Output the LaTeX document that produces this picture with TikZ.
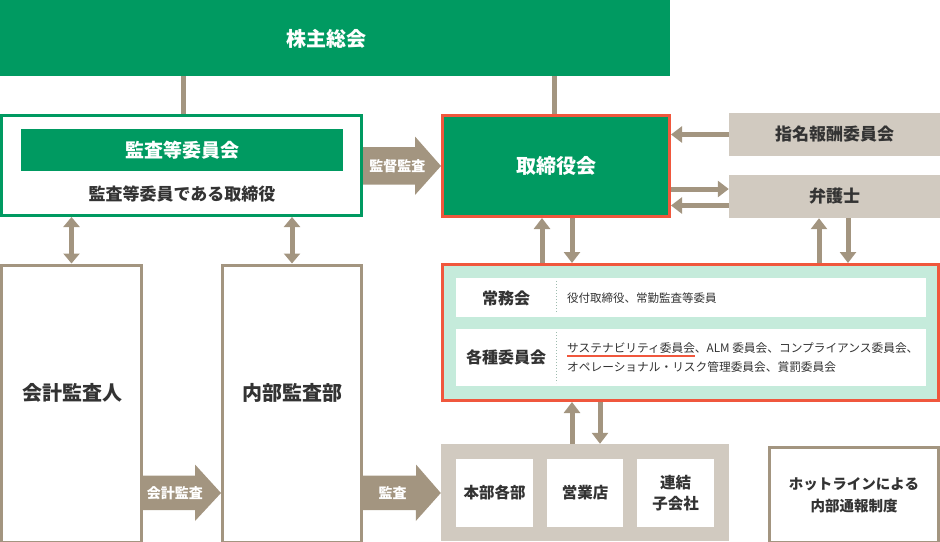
\documentclass[tikz,border=0pt]{standalone}
\usepackage{fontspec}
\setmainfont{Noto Sans CJK JP}
\usetikzlibrary{arrows.meta,calc}
\definecolor{grn}{HTML}{009A61}
\definecolor{rd}{HTML}{F0573D}
\definecolor{brn}{HTML}{A39580}
\definecolor{lbg}{HTML}{D1CAC0}
\definecolor{mint}{HTML}{C5EBDB}
\definecolor{txt}{HTML}{333333}
\tikzset{
  box/.style={rectangle, inner sep=0pt, align=center, font=\bfseries},
  gbar/.style={box, fill=grn, text=white},
  bframe/.style={box, draw=brn, line width=3pt, fill=white, text=txt},
  gframe/.style={box, draw=grn, line width=3pt, fill=white, text=txt},
  rframe/.style={box, draw=rd, line width=3pt},
  beige/.style={box, fill=lbg, text=txt},
  wbox/.style={box, fill=white, text=txt},
  conn/.style={draw=brn, line width=5pt},
  tarrow/.style={draw=brn, line width=5pt, -{Triangle[width=16pt,length=11pt]}},
  tdouble/.style={draw=brn, line width=5pt, {Triangle[width=16pt,length=10pt]}-{Triangle[width=16pt,length=10pt]}},
  fat/.style={fill=brn},
  fatlbl/.style={font=\bfseries, text=white, inner sep=0pt},
}
\begin{document}
\begin{tikzpicture}[x=1pt,y=-1pt]
\useasboundingbox (0,0) rectangle (940,541);
% top
\node[gbar, minimum width=670pt, minimum height=76pt] (kabu) at (335,38) {};
\node[font=\bfseries\fontsize{20}{22}\selectfont, text=white] (kabut) at (326,39) {株主総会};
% audit committee
\node[gframe, minimum width=360pt, minimum height=100pt] (kansabox) at (181.5,165.5) {};
\node[gbar, minimum width=322pt, minimum height=42pt, font=\bfseries\fontsize{19}{21}\selectfont] (kansakai) at (182,150) {監査等委員会};
\node[font=\bfseries\fontsize{17}{19}\selectfont, text=txt] (kansatxt) at (182,194) {監査等委員である取締役};
% board
\node[rframe, fill=grn, text=white, minimum width=227pt, minimum height=101pt, font=\bfseries\fontsize{20}{22}\selectfont] (tori) at (556,166) {取締役会};
\node[beige, minimum width=211pt, minimum height=43pt, font=\bfseries\fontsize{17}{19}\selectfont] (shimei) at (834.5,134.5) {指名報酬委員会};
\node[beige, minimum width=211pt, minimum height=43pt, font=\bfseries\fontsize{17}{19}\selectfont] (bengo) at (834.5,196.5) {弁護士};
% panel
\node[rframe, fill=mint, minimum width=496pt, minimum height=136pt] (panel) at (690.5,332.5) {};
\node[wbox, minimum width=470pt, minimum height=39pt] (row1) at (691,297.5) {};
\node[wbox, minimum width=470pt, minimum height=57pt] (row2) at (691,357.5) {};
\draw[mint!80!black, line width=1pt, dotted] (556,281) -- (556,314);
\draw[mint!80!black, line width=1pt, dotted] (556,332) -- (556,383);
\node[font=\bfseries\fontsize{16}{18}\selectfont, text=txt] (jomu) at (506,298) {常務会};
\node[font=\bfseries\fontsize{16}{18}\selectfont, text=txt] (kakushu) at (506,357.5) {各種委員会};
\node[anchor=west, inner sep=0pt, text=txt, font=\fontsize{11.5}{13}\selectfont] (jomut) at (567,298) {役付取締役、常勤監査等委員};
\node[anchor=west, inner sep=0pt, text=txt, align=left, font=\fontsize{11.7}{19}\selectfont] (kakut) at (567,357.5) {サステナビリティ委員会、ALM 委員会、コンプライアンス委員会、\\オペレーショナル・リスク管理委員会、賞罰委員会};
\draw[rd, line width=2pt] (567,355.5) -- (695,355.5);
% left column
\node[bframe, minimum width=140pt, minimum height=277pt] (kaikei) at (71.5,403.5) {};
\node[font=\bfseries\fontsize{20}{22}\selectfont, text=txt] (kaikeit) at (72,393) {会計監査人};
\node[bframe, minimum width=139pt, minimum height=277pt] (naibu) at (292,403.5) {};
\node[font=\bfseries\fontsize{20}{22}\selectfont, text=txt] (naibut) at (292,393) {内部監査部};
% business units
\node[beige, minimum width=288pt, minimum height=97pt] (honbu) at (585,492.5) {};
\node[wbox, minimum width=77pt, minimum height=68pt, font=\bfseries\fontsize{15.5}{19}\selectfont] (hb1) at (494.5,493) {本部各部};
\node[wbox, minimum width=76pt, minimum height=68pt, font=\bfseries\fontsize{15.5}{19}\selectfont] (hb2) at (585,493) {営業店};
\node[wbox, minimum width=77pt, minimum height=68pt, font=\bfseries\fontsize{15.5}{21}\selectfont] (hb3) at (675.5,493) {連結\\子会社};
\node[bframe, minimum width=169pt, minimum height=95pt, font=\bfseries\fontsize{14.5}{22}\selectfont] (hot) at (854,495) {ホットラインによる\\内部通報制度};
% connectors
\coordinate (c1) at ([xshift=1.5pt]kansabox.north);
\draw[conn] (c1) -- (c1 |- kabu.south);
\coordinate (c2) at ([xshift=-2pt]tori.north);
\draw[conn] (c2) -- (c2 |- kabu.south);
\draw[tarrow] (shimei.west) -- (shimei.west -| tori.east);
\coordinate (b1) at ([yshift=7.5pt]bengo.west);
\coordinate (b2) at ([yshift=-9pt]bengo.west);
\draw[tarrow] (b1 -| tori.east) -- (b1);
\draw[tarrow] (b2) -- (b2 -| tori.east);
\coordinate (u1) at ([xshift=-14pt]tori.south);
\coordinate (d1) at ([xshift=16pt]tori.south);
\draw[tarrow] (u1 |- panel.north) -- (u1);
\draw[tarrow] (d1) -- (d1 |- panel.north);
\coordinate (u2) at ([xshift=-15.5pt]bengo.south);
\coordinate (d2) at ([xshift=13.5pt]bengo.south);
\draw[tarrow] (u2 |- panel.north) -- (u2);
\draw[tarrow] (d2) -- (d2 |- panel.north);
\coordinate (u3) at ([xshift=-13pt]honbu.north);
\coordinate (d3) at ([xshift=15pt]honbu.north);
\draw[tarrow] (u3) -- (u3 |- panel.south);
\draw[tarrow] (d3 |- panel.south) -- (d3);
\draw[tdouble] (kaikei.north) -- (kaikei.north |- kansabox.south);
\draw[tdouble] (naibu.north) -- (naibu.north |- kansabox.south);
% fat arrows
\fill[fat] (kansabox.east) ++(0,-18.5) -- ++(52,0) -- ++(0,-10.5) -- (tori.west) -- ++(-26,29) -- ++(0,-10.5) -- ++(-52,0) -- cycle;
\node[fatlbl, font=\bfseries\fontsize{14}{16}\selectfont] (kantoku) at ($(kansabox.east)!0.44!(tori.west)$) {監督監査};
\coordinate (k1) at (kaikei.east |- hb1);
\coordinate (k2) at (naibu.west |- hb1);
\fill[fat] (k1) ++(0,-17.5) -- ++(52,0) -- ++(0,-11) -- (k2) -- ++(-26,28) -- ++(0,-11) -- ++(-52,0) -- cycle;
\node[fatlbl, font=\bfseries\fontsize{14}{16}\selectfont] (kaikeikansa) at ($(k1)!0.41!(k2)$) {会計監査};
\coordinate (k3) at (naibu.east |- hb1);
\coordinate (k4) at (honbu.west |- hb1);
\fill[fat] (k3) ++(0,-17.5) -- ++(53,0) -- ++(0,-11) -- (k4) -- ++(-25,28) -- ++(0,-11) -- ++(-53,0) -- cycle;
\node[fatlbl, font=\bfseries\fontsize{14}{16}\selectfont] (kansa) at ($(k3)!0.38!(k4)$) {監査};
\end{tikzpicture}
\end{document}
